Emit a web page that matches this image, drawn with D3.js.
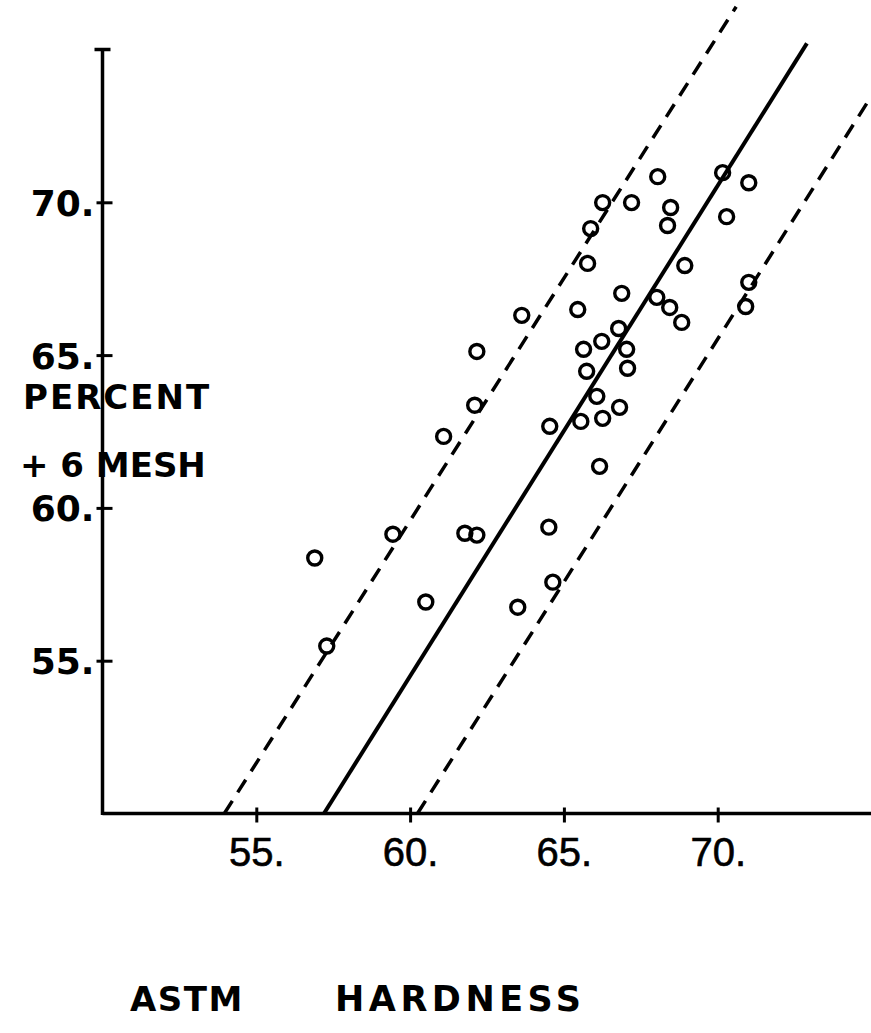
<!DOCTYPE html>
<html>
<head>
<meta charset="utf-8">
<script src="https://cdn.jsdelivr.net/npm/d3@7"></script>
<style>
  html, body { margin: 0; padding: 0; background: #fff; }
  svg { display: block; }
  .lbl { font-family: "DejaVu Sans", sans-serif; font-weight: bold; fill: #000; }
  .xt { font-family: "Liberation Sans", Arial, sans-serif; fill: #000; }
</style>
</head>
<body>
<svg id="chart" width="871" height="1033"></svg>
<script>
// ---- data ----
const hardness = [56.9, 57.29, 59.44, 60.51, 61.09, 61.78, 62.17, 62.10, 62.17, 63.63,
  63.50, 64.51, 64.64, 64.54, 65.45, 65.55, 65.64, 65.74, 65.77, 65.87,
  66.07, 66.26, 66.26, 66.16, 66.23, 66.78, 66.81, 66.88, 67.04, 67.07,
  67.20, 68.05, 68.37, 68.47, 68.02, 68.44, 68.83, 68.93, 70.16, 70.29,
  71.01, 71.01, 70.91];
const percentPlus6 = [58.36, 55.48, 59.14, 56.92, 62.34, 59.17, 59.11, 63.36, 65.12, 66.30,
  56.75, 59.37, 57.57, 62.67, 66.49, 62.83, 65.19, 64.47, 68.00, 69.14,
  63.65, 69.99, 62.93, 61.36, 65.45, 65.87, 63.29, 67.02, 65.19, 64.57,
  69.99, 70.84, 69.24, 69.83, 66.89, 66.56, 66.07, 67.93, 70.97, 69.53,
  70.64, 67.38, 66.59];
// regression line and its two limit lines (end points in data units)
const fitLine   = [[57.2, 50], [72.9, 75.2]];
const upperLine = [[53.96, 50], [70.6, 76.4]];
const lowerLine = [[60.24, 50], [74.95, 73.4]];
const xTicks = [55, 60, 65, 70];
const yTicks = [55, 60, 65, 70];
const xTitleA = "ASTM";
const xTitleB = "HARDNESS";
const yTitle1 = "PERCENT";
const yTitle2 = "+ 6 MESH";

// ---- scales ----
const x = d3.scaleLinear().domain([50, 75]).range([102.5, 871.5]);
const y = d3.scaleLinear().domain([50, 75]).range([813.5, 49.5]);

const svg = d3.select("#chart");
svg.append("rect").attr("width", 871).attr("height", 1033).attr("fill", "#fff");

// ---- axes ----
const xAxis = svg.append("g").attr("transform", `translate(0,${y(50)})`)
  .call(d3.axisBottom(x).tickValues(xTicks).tickFormat(d => d + ".").tickSizeOuter(0));
xAxis.select(".domain").attr("stroke", "#000").attr("stroke-width", 3.5)
  .attr("d", `M${x(50)},0H${x(75)}`);
xAxis.selectAll(".tick line").attr("stroke", "#000").attr("stroke-width", 3)
  .attr("y1", -6).attr("y2", 9);
xAxis.selectAll(".tick text").attr("class", "xt").attr("font-size", 40)
  .attr("y", 0).attr("dy", 0).attr("transform", "translate(0,52)")
  .attr("stroke", "#000").attr("stroke-width", 0.6);

const yAxis = svg.append("g").attr("transform", `translate(${x(50)},0)`)
  .call(d3.axisLeft(y).tickValues(yTicks).tickFormat(d => d + ".").tickSizeOuter(0));
yAxis.select(".domain").attr("stroke", "#000").attr("stroke-width", 3.5)
  .attr("d", `M0,${y(50) + 1.5}V${y(75)}`);
yAxis.selectAll(".tick line").attr("stroke", "#000").attr("stroke-width", 3)
  .attr("x1", -6).attr("x2", 10);
yAxis.selectAll(".tick text").attr("class", "lbl").attr("font-size", 36)
  .attr("x", -8).attr("dy", 0).attr("y", 13).attr("text-anchor", "end");
// top end cap
yAxis.append("line").attr("x1", -8).attr("x2", 8).attr("y1", y(75)).attr("y2", y(75))
  .attr("stroke", "#000").attr("stroke-width", 3.5);

// ---- axis titles ----
svg.append("text").attr("class", "lbl").attr("font-size", 34).attr("letter-spacing", 2)
  .attr("x", 23).attr("y", 409).text(yTitle1);
svg.append("text").attr("class", "lbl").attr("font-size", 34).attr("letter-spacing", 0)
  .attr("x", 20).attr("y", 477).attr("xml:space", "preserve").text(yTitle2);
svg.append("text").attr("class", "lbl").attr("font-size", 34).attr("letter-spacing", 1.5)
  .attr("x", 130).attr("y", 1011).text(xTitleA);
svg.append("text").attr("class", "lbl").attr("font-size", 35).attr("letter-spacing", 4.5)
  .attr("x", 335).attr("y", 1011).text(xTitleB);

// ---- lines ----
const line = d3.line().x(d => x(d[0])).y(d => y(d[1]));
svg.append("path").attr("d", line(upperLine)).attr("fill", "none").attr("stroke", "#000")
  .attr("stroke-width", 3.5).attr("stroke-dasharray", "15,10");
svg.append("path").attr("d", line(lowerLine)).attr("fill", "none").attr("stroke", "#000")
  .attr("stroke-width", 3.5).attr("stroke-dasharray", "15,10");
svg.append("path").attr("d", line(fitLine)).attr("fill", "none").attr("stroke", "#000")
  .attr("stroke-width", 4);

// ---- points ----
const pts = hardness.map((h, i) => [h, percentPlus6[i]]);
svg.append("g").selectAll("circle").data(pts).join("circle")
  .attr("cx", d => x(d[0])).attr("cy", d => y(d[1])).attr("r", 7)
  .attr("fill", "none").attr("stroke", "#000").attr("stroke-width", 3.4);
</script>
</body>
</html>
